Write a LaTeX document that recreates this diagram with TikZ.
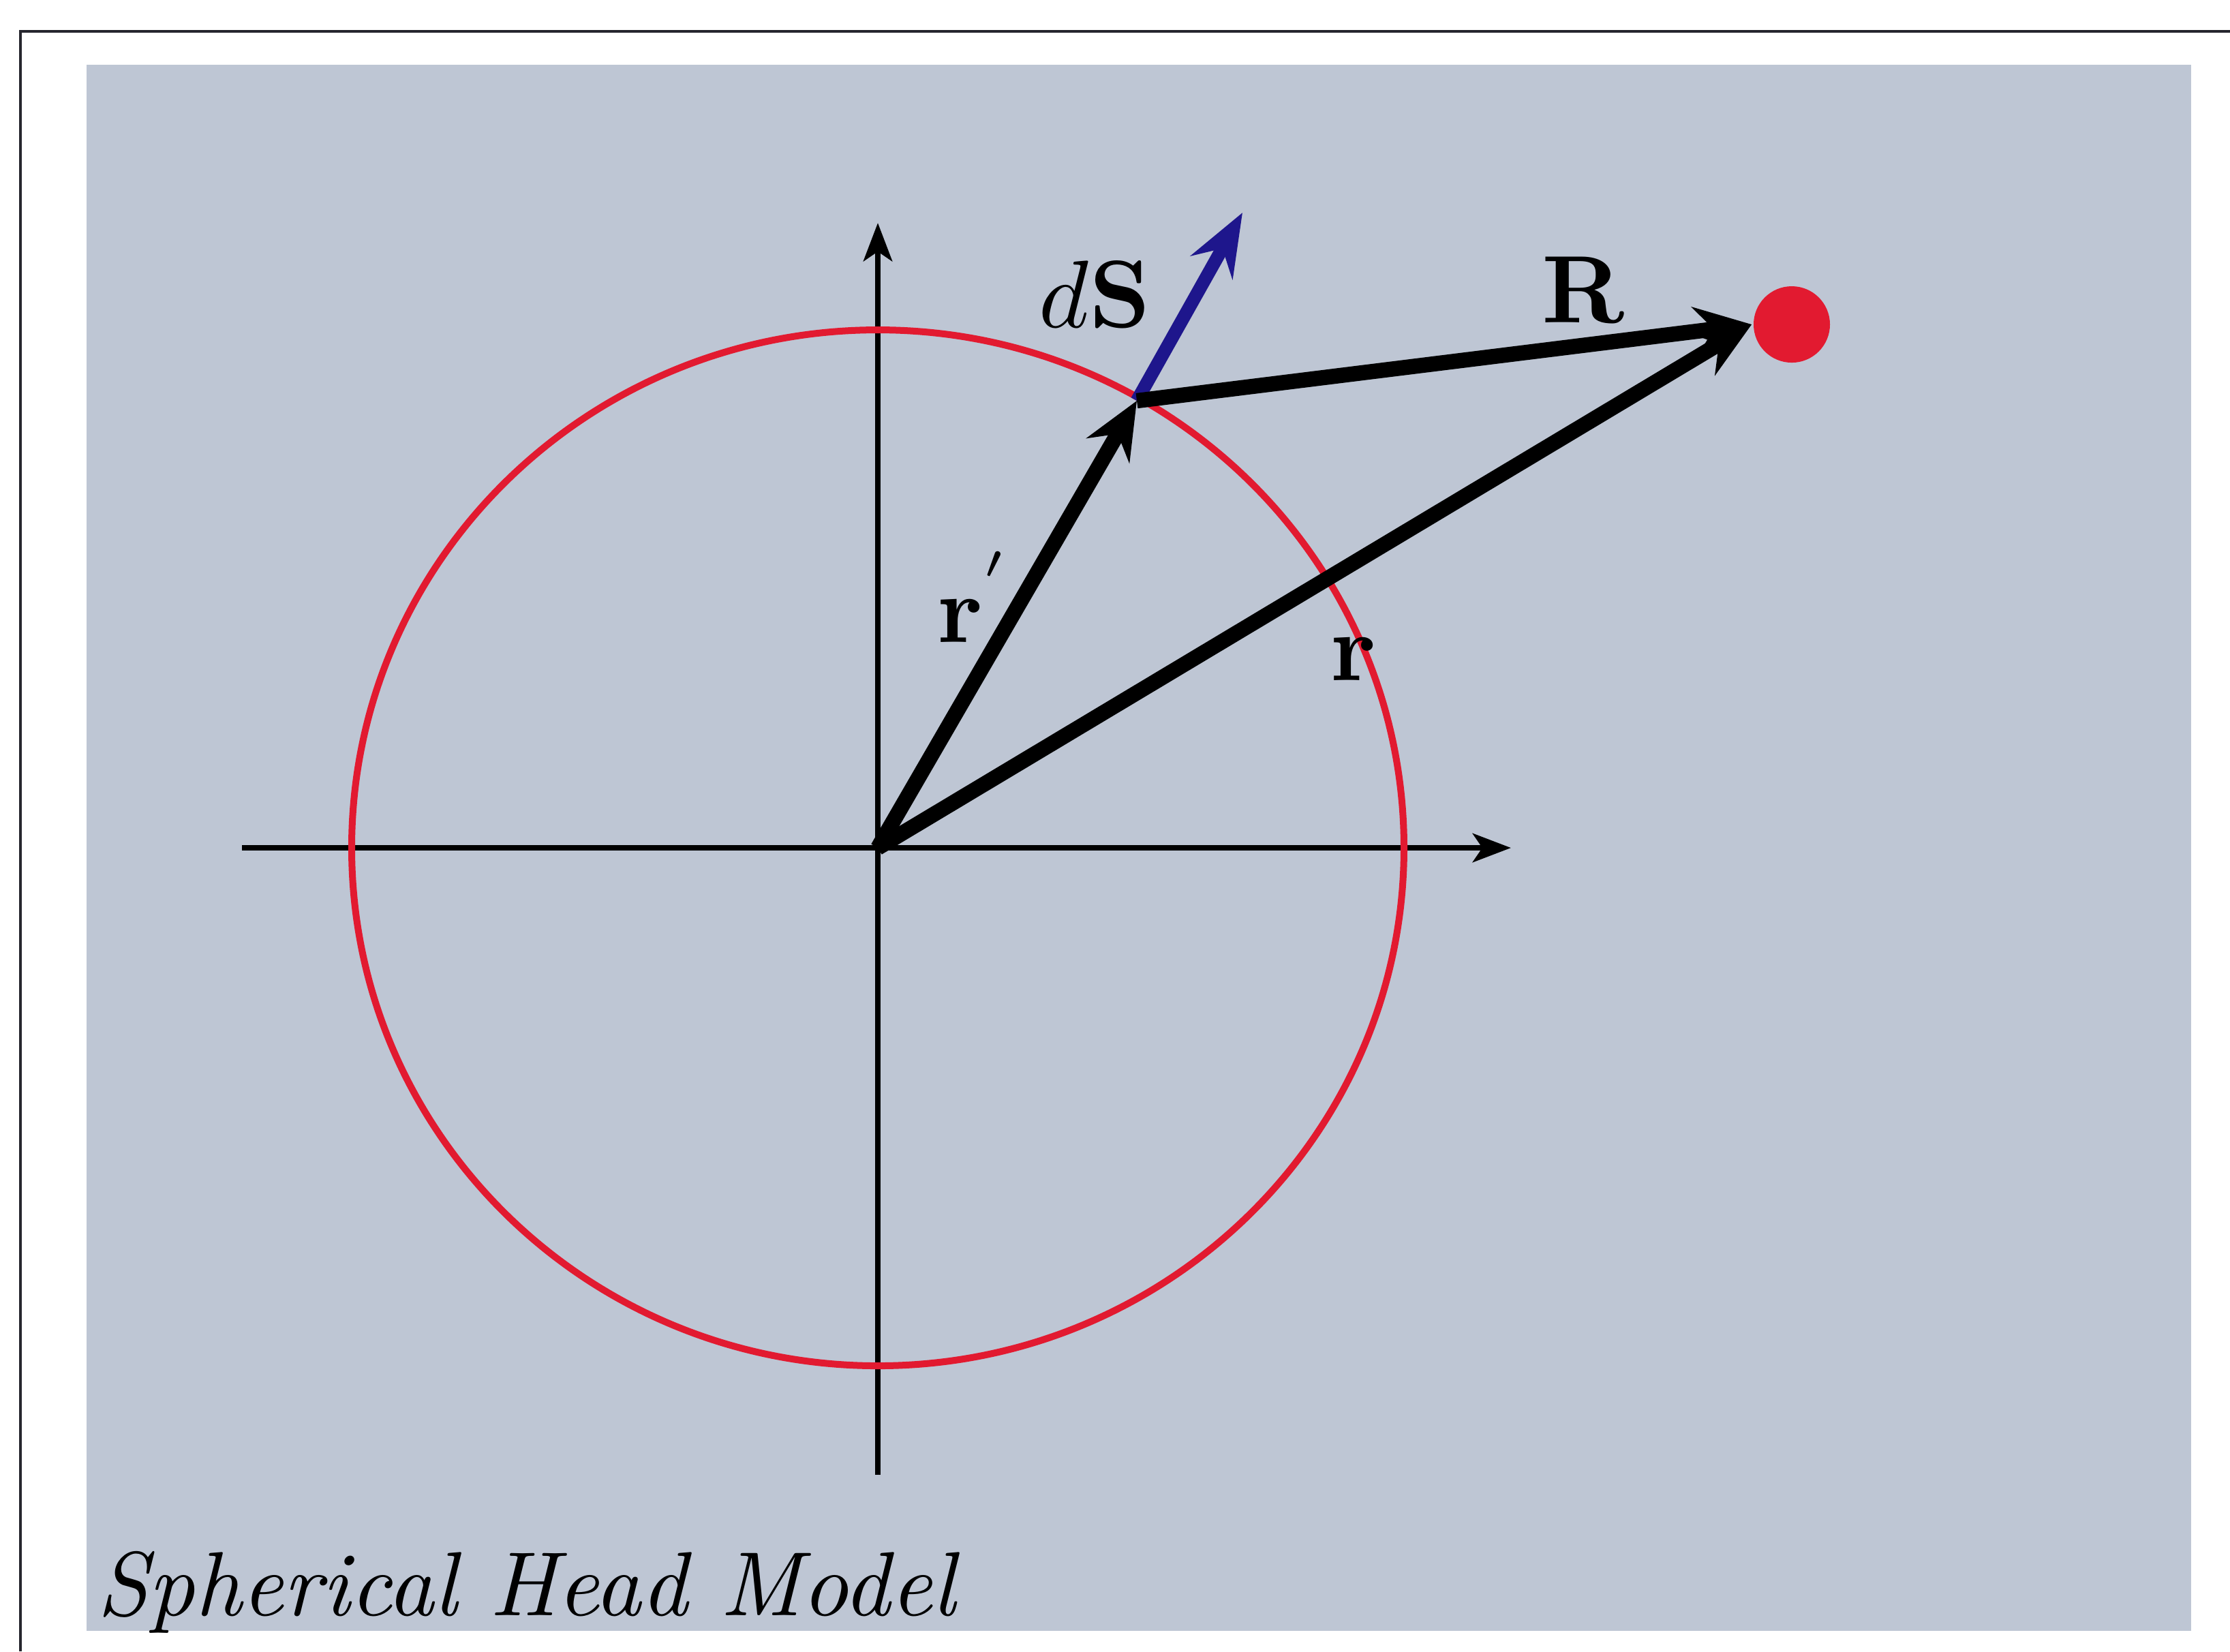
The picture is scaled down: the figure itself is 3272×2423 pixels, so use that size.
\documentclass[tikz,border=0pt]{standalone}
\usepackage{amsmath,amssymb}
\usepackage{tikz}
\usetikzlibrary{arrows.meta}
\definecolor{paperbg}{RGB}{190,198,212}
\definecolor{headred}{RGB}{226,26,48}
\definecolor{dsblue}{RGB}{30,22,140}
\definecolor{framek}{RGB}{38,38,46}
\tikzset{
  axln/.style={-{Stealth[length=1.4mm,width=1.05mm,inset=0.35mm]},line width=0.22mm},
  vec/.style={-{Stealth[length=2.1mm,width=1.8mm,inset=0.7mm]},line width=0.56mm},
  nvec/.style={-{Stealth[length=2.3mm,width=1.75mm,inset=0.8mm]},line width=0.48mm,dsblue},
  headc/.style={draw=headred,line width=0.25mm},   % head outline
  src/.style={circle,fill=headred,minimum size=2.8mm,inner sep=0pt}, % source point
  lbl/.style={inner sep=0pt,anchor=base west},
}
\begin{document}
\begin{tikzpicture}[x=0.025mm,y=-0.025mm]
  \useasboundingbox (0,0) rectangle (3272,2423);
  % paper and panel
  \fill[white] (0,0) rectangle (3272,2423);
  \draw[framek,line width=0.12mm] (30,2423) -- (30,46) -- (3272,46);
  \fill[paperbg] (127,95) rectangle (3215,2393);
  % axes
  \coordinate (O) at (1288,1244);
  \coordinate (xl) at (355,1244);
  \coordinate (xr) at (2217,1244);
  \coordinate (yb) at (1288,2164);
  \coordinate (yt) at (1288,327);
  \draw[axln] (xl) -- (xr);
  \draw[axln] (yb) -- (yt);
  % spherical head
  \draw[headc] (O) ellipse [x radius=772, y radius=760];
  % surface element and vectors
  \coordinate (P) at (1668,588);
  \coordinate (Pn) at (1823,312);
  \node[src] (s) at (2629,476) {};
  \draw[nvec] (P) -- (Pn);
  \draw[vec] (O) -- (P);
  \draw[vec] (P) -- (s.west);
  \draw[vec] (O) -- (s.west);
  % labels
  \node[lbl] (ldS) at (1522,480) {$d\mathbf{S}$};
  \node[lbl] (lR) at (2260,473) {$\mathbf{R}$};
  \node[lbl] (lrp) at (1373,942) {$\mathbf{r}^{'}$};
  \node[lbl] (lr) at (1950,998) {$\mathbf{r}$};
  \node[lbl,font=\fontsize{9.5}{11}\selectfont] (cap) at (140,2370) {\textit{Spherical Head Model}};
\end{tikzpicture}
\end{document}
